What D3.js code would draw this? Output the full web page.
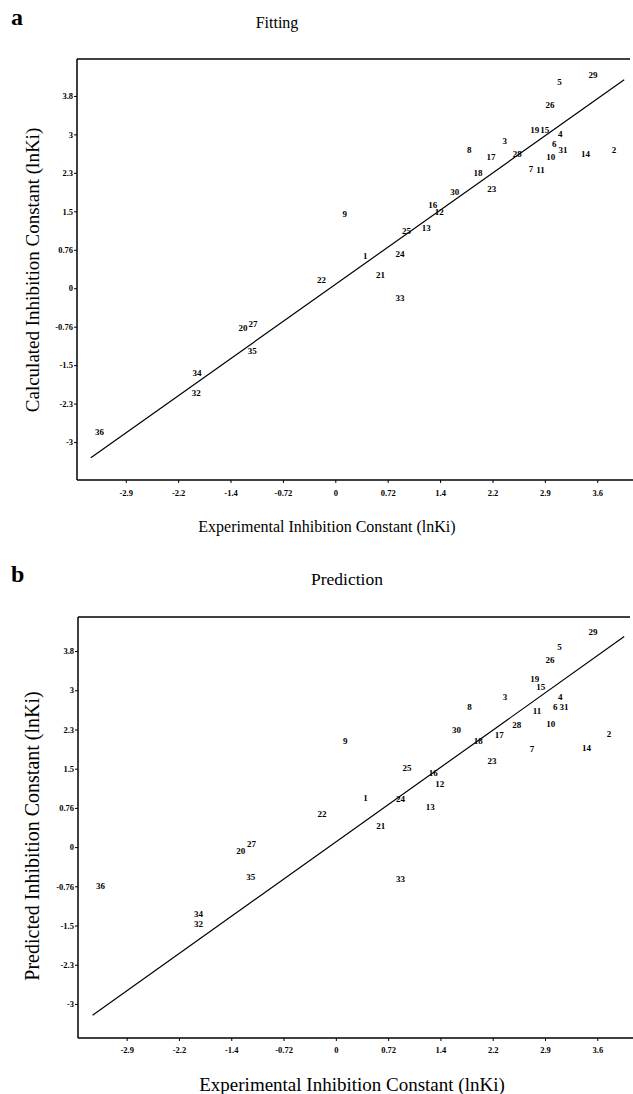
<!DOCTYPE html>
<html>
<head>
<meta charset="utf-8">
<script src="https://cdn.jsdelivr.net/npm/d3@7"></script>
<style>
  body { margin: 0; background: #fff; }
  svg { display: block; }
  text { font-family: "Liberation Serif", "Times New Roman", serif; fill: #000; }
</style>
</head>
<body>
<div id="chart"></div>
<script>
// compound numbers 1..36
var ids = d3.range(1, 37);

// panel a: fitting (experimental x, calculated y)
var fitX = [0.41, 3.83, 2.33, 3.09, 3.08, 3.01, 2.69, 1.84, 0.13, 2.96,
            2.82, 1.43, 1.25, 3.44, 2.88, 1.34, 2.14, 1.96, 2.74, -1.27,
            0.62, -0.19, 2.15, 0.89, 0.98, 2.95, -1.13, 2.50, 3.54, 1.64,
            3.13, -1.91, 0.89, -1.90, -1.14, -3.24];
var fitY = [0.63, 2.74, 2.92, 3.06, 4.08, 2.86, 2.35, 2.73, 1.46, 2.60,
            2.33, 1.51, 1.20, 2.65, 3.12, 1.65, 2.60, 2.28, 3.12, -0.78,
            0.26, 0.17, 1.97, 0.67, 1.13, 3.63, -0.70, 2.65, 4.21, 1.90,
            2.73, -2.06, -0.20, -1.67, -1.23, -2.84];
var fitLine = [[-3.36, -3.35], [3.97, 4.12]];

// panel b: prediction (experimental x, predicted y)
var predX = [0.41, 3.76, 2.33, 3.09, 3.08, 3.02, 2.70, 1.84, 0.13, 2.96,
             2.77, 1.43, 1.30, 3.45, 2.82, 1.34, 2.25, 1.96, 2.74, -1.31,
             0.62, -0.19, 2.15, 0.89, 0.98, 2.95, -1.16, 2.49, 3.54, 1.66,
             3.14, -1.89, 0.89, -1.89, -1.17, -3.24];
var predY = [0.96, 2.20, 2.91, 2.91, 3.89, 2.72, 1.91, 2.72, 2.05, 2.38,
             2.64, 1.23, 0.78, 1.92, 3.11, 1.44, 2.17, 2.05, 3.27, -0.07,
             0.41, 0.65, 1.67, 0.94, 1.53, 3.62, 0.07, 2.36, 4.17, 2.27,
             2.72, -1.48, -0.61, -1.30, -0.58, -0.76];
var predLine = [[-3.35, -3.26], [3.97, 4.08]];

// ticks
var xTicks = [-2.88, -2.16, -1.44, -0.72, 0, 0.72, 1.44, 2.16, 2.88, 3.6];
var xTickLabels = ["-2.9", "-2.2", "-1.4", "-0.72", "0", "0.72", "1.4", "2.2", "2.9", "3.6"];
var yTicks = [-3.04, -2.28, -1.52, -0.76, 0, 0.76, 1.52, 2.28, 3.04, 3.8];
var yTickLabels = ["-3", "-2.3", "-1.5", "-0.76", "0", "0.76", "1.5", "2.3", "3", "3.8"];

var svg = d3.select("#chart").append("svg")
    .attr("width", 633)
    .attr("height", 1094);

function drawPanel(p) {
  var x = d3.scaleLinear().domain([-3.55, 4.05]).range([p.left, p.right]);
  var y = d3.scaleLinear().domain(p.yDomain).range([p.bottom, p.top]);
  var g = svg.append("g");

  // frame: left, top, bottom
  g.append("line").attr("x1", p.left).attr("x2", p.left).attr("y1", p.top).attr("y2", p.bottom)
      .attr("stroke", "#000").attr("stroke-width", 1.5);
  g.append("line").attr("x1", p.left).attr("x2", p.right).attr("y1", p.top).attr("y2", p.top)
      .attr("stroke", "#000").attr("stroke-width", 1.5);
  g.append("line").attr("x1", p.left).attr("x2", 633).attr("y1", p.bottom).attr("y2", p.bottom)
      .attr("stroke", "#000").attr("stroke-width", 1.5);

  var xAxis = d3.axisBottom(x)
      .tickValues(xTicks)
      .tickFormat(function(d, i) { return xTickLabels[i]; })
      .tickSize(3).tickPadding(p.xPad);
  var gx = g.append("g").attr("transform", "translate(0," + p.bottom + ")").call(xAxis);
  gx.select(".domain").remove();

  var yAxis = d3.axisLeft(y)
      .tickValues(yTicks)
      .tickFormat(function(d, i) { return yTickLabels[i]; })
      .tickSize(3).tickPadding(1);
  var gy = g.append("g").attr("transform", "translate(" + p.left + ",0)").call(yAxis);
  gy.select(".domain").remove();

  g.selectAll(".tick text")
      .style("font-family", "'Liberation Serif', serif")
      .style("font-weight", "bold")
      .style("font-size", "8.5px");
  g.selectAll(".tick line").attr("stroke-width", 1);

  // regression line
  g.append("path")
      .datum(p.line)
      .attr("fill", "none")
      .attr("stroke", "#000")
      .attr("stroke-width", 1.2)
      .attr("d", d3.line().x(function(d) { return x(d[0]); }).y(function(d) { return y(d[1]); }));

  // compound labels used as markers
  g.selectAll(".pt")
      .data(ids)
    .enter().append("text")
      .attr("class", "pt")
      .attr("x", function(d, i) { return x(p.xs[i]); })
      .attr("y", function(d, i) { return y(p.ys[i]); })
      .attr("dy", "0.35em")
      .attr("text-anchor", "middle")
      .style("font-size", "9px")
      .style("font-weight", "bold")
      .text(function(d) { return d; });

  // letters and titles
  svg.append("text").attr("x", 11).attr("y", p.letterY)
      .style("font-size", "24px").style("font-weight", "bold").text(p.letter);
  svg.append("text").attr("x", p.titleX).attr("y", p.titleY).attr("text-anchor", "middle")
      .style("font-size", p.titleSize + "px").text(p.title);
  svg.append("text").attr("x", p.xLabelX).attr("y", p.xLabelY).attr("text-anchor", "middle")
      .style("font-size", p.xLabelSize + "px").text("Experimental Inhibition Constant (lnKi)");
  svg.append("text")
      .attr("transform", "translate(39," + p.yLabelY + ") rotate(-90)")
      .attr("text-anchor", "middle")
      .style("font-size", p.yLabelSize + "px").text(p.yLabel);
}

drawPanel({
  left: 77, right: 630, top: 59, bottom: 480,
  yDomain: [-3.79, 4.53], xPad: 7,
  xs: fitX, ys: fitY, line: fitLine,
  letter: "a", letterY: 25,
  title: "Fitting", titleX: 277, titleY: 28, titleSize: 16,
  xLabelX: 327, xLabelY: 532, xLabelSize: 16,
  yLabel: "Calculated Inhibition Constant (lnKi)", yLabelY: 270, yLabelSize: 19
});

drawPanel({
  left: 78, right: 630, top: 617, bottom: 1038,
  yDomain: [-3.70, 4.46], xPad: 6,
  xs: predX, ys: predY, line: predLine,
  letter: "b", letterY: 582,
  title: "Prediction", titleX: 347, titleY: 585, titleSize: 17.5,
  xLabelX: 352, xLabelY: 1091, xLabelSize: 19,
  yLabel: "Predicted Inhibition Constant (lnKi)", yLabelY: 836, yLabelSize: 20
});
</script>
</body>
</html>
